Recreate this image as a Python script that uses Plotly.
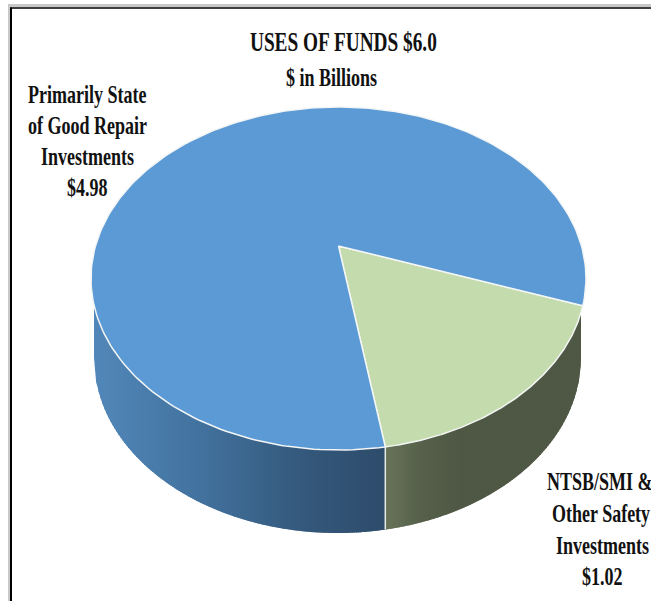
import numpy as np
import plotly.graph_objects as go

# Data
categories = ["NTSB/SMI & Other Safety Investments", "Primarily State of Good Repair Investments"]
values = [1.02, 4.98]
title_lines = ["USES OF FUNDS $6.0", "$ in Billions"]
label_left = ["Primarily State", "of Good Repair", "Investments", "$4.98"]
label_right = ["NTSB/SMI &", "Other Safety", "Investments", "$1.02"]
slice_colors = ["#c4dbad", "#5b9ad5"]

# Gradient stops of the pie wall (pixel x, colour)
blue_wall_x = [90, 200, 300, 383]
blue_wall_rgb = [(82, 136, 186), (66, 114, 158), (52, 89, 124), (46, 76, 108)]
green_wall_x = [383, 420, 460, 590]
green_wall_rgb = [(104, 117, 90), (86, 97, 75), (78, 88, 68), (78, 88, 68)]

# Pie geometry, in picture pixels
TOP = dict(cx=338.5, cy=278.5, rx=247.5, ry=171.5)
BOT = dict(cx=337.5, cy=358.0, rx=243.5, ry=175.0)
TILT = 0.19           # perspective shift of the pie centre
START_ANGLE = 109.8   # degrees clockwise from 12 o'clock
W, H = 651, 601


def project(deg):
    t = np.radians(deg)
    u, v = np.sin(t), np.cos(t)
    den = 1 + TILT * v
    xp = u * np.sqrt(1 - TILT ** 2) / den
    yp = (v + TILT) / den
    return TOP["cx"] + TOP["rx"] * xp, TOP["cy"] - TOP["ry"] * yp


def bottom_y(x):
    d = np.clip((x - BOT["cx"]) / BOT["rx"], -1, 1)
    return BOT["cy"] + BOT["ry"] * np.sqrt(1 - d ** 2)


def mix(x, xs, rgbs):
    ch = [np.interp(x, xs, [c[i] for c in rgbs]) for i in range(3)]
    return "rgb(%d,%d,%d)" % tuple(int(round(c)) for c in ch)


sweep_green = 360 * values[0] / sum(values)
end_green = START_ANGLE + sweep_green
split_x = float(project(end_green)[0])
split_y = float(project(end_green)[1])

fig = go.Figure()

# Wall strips (each overlaps the next, later ones paint over the seam)
edges = np.arange(BOT["cx"] - BOT["rx"], split_x, 2.0).tolist() + [split_x]
edges += np.arange(split_x + 2.0, BOT["cx"] + BOT["rx"], 2.0).tolist() + [BOT["cx"] + BOT["rx"]]
for x0, x1 in zip(edges[:-1], edges[1:]):
    mid = (x0 + x1) / 2
    is_blue = mid < split_x
    col = mix(mid, blue_wall_x, blue_wall_rgb) if is_blue else mix(mid, green_wall_x, green_wall_rgb)
    x2 = min(x1 + 1.5, BOT["cx"] + BOT["rx"])
    fig.add_trace(go.Scatter(
        x=[x0, x1, x2, x2, x1, x0, x0],
        y=[TOP["cy"], TOP["cy"], TOP["cy"], bottom_y(x2), bottom_y(x1), bottom_y(x0), TOP["cy"]],
        mode="lines", fill="toself", fillcolor=col,
        line=dict(color=col, width=0), hoverinfo="skip", showlegend=False))

# White seam on the wall between the slices
fig.add_trace(go.Scatter(x=[split_x, split_x], y=[split_y, float(bottom_y(split_x))], mode="lines",
                         line=dict(color="#e8ece6", width=1.5), hoverinfo="skip", showlegend=False))

# Top face slices
pc_x, pc_y = TOP["cx"], TOP["cy"] - TOP["ry"] * TILT
spans = [(START_ANGLE, end_green), (end_green, START_ANGLE + 360)]
for name, (a0, a1), col in zip(categories, spans, slice_colors):
    ang = np.linspace(a0, a1, 240)
    xs, ys = project(ang)
    fig.add_trace(go.Scatter(
        x=[pc_x] + xs.tolist() + [pc_x], y=[pc_y] + ys.tolist() + [pc_y],
        mode="lines", fill="toself", fillcolor=col, name=name,
        line=dict(color="#f4f6f6", width=1.5), hoverinfo="skip", showlegend=False))

shapes = [
    dict(type="line", x0=9, x1=9, y0=4, y1=H, line=dict(color="#c8c8c8", width=2)),
    dict(type="line", x0=8, x1=W, y0=5.5, y1=5.5, line=dict(color="#c8c8c8", width=3)),
    dict(type="line", x0=11, x1=11, y0=7.5, y1=H, line=dict(color="#000000", width=2)),
    dict(type="line", x0=10, x1=W, y0=8, y1=8, line=dict(color="#000000", width=1.5)),
]

annotations = []
def add_lines(lines, centres, ys, sizes):
    for t, xc, y, size in zip(lines, centres, ys, sizes):
        annotations.append(dict(x=xc, y=y, text="<b>%s</b>" % t, showarrow=False, xanchor="center",
                                yanchor="middle", xref="x", yref="y",
                                font=dict(family="Liberation Serif", size=size, color="#111111")))

add_lines(title_lines, [343, 331], [41, 78], [19.3, 18])
add_lines(label_left, [87, 87, 87, 87], [95, 126, 157, 188], [18, 18, 18, 18])
add_lines(label_right, [600, 601, 602, 602], [482, 514, 546, 577], [18, 18, 18, 18])

fig.update_layout(
    width=W, height=H, margin=dict(l=0, r=0, t=0, b=0),
    paper_bgcolor="white", plot_bgcolor="white",
    xaxis=dict(range=[0, W], visible=False, fixedrange=True),
    yaxis=dict(range=[H, 0], visible=False, fixedrange=True),
    shapes=shapes, annotations=annotations, showlegend=False)

# Page margin off; the reference lettering is tall and narrow, so stretch it vertically
post = """
document.body.style.margin = '0';
document.querySelectorAll('.annotation-text').forEach(function (t) {
  t.style.transformBox = 'fill-box';
  t.style.transformOrigin = 'center';
  t.style.transform = 'scaleY(1.4)';
});
"""
fig.write_html("out.html", config=dict(displayModeBar=False), include_plotlyjs=True, post_script=post)
